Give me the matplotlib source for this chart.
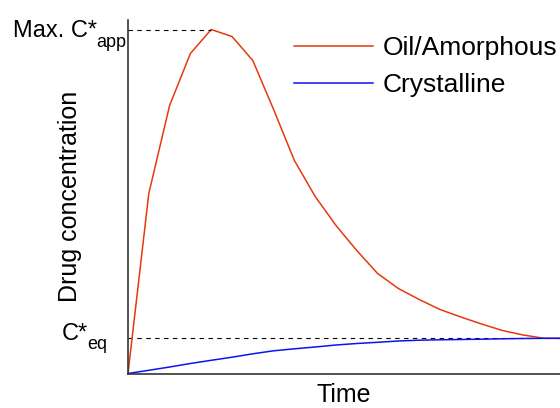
import matplotlib
matplotlib.use("Agg")
import matplotlib.pyplot as plt

plt.rcParams["font.family"] = ["Liberation Sans", "DejaVu Sans"]

# sampling times (arbitrary units) and concentration profiles (arbitrary units)
time = list(range(22))
oil_amorphous = [0, 180, 268, 320, 344, 337, 313, 264, 213, 177, 148, 123,
                 100, 85, 74, 64, 56.5, 49.5, 43, 38.5, 35.2, 35.2]
crystalline = [0, 3.2, 6.5, 10, 13.2, 16.3, 19.7, 22.7, 24.7, 26.5, 28.5, 30,
               31.2, 32.5, 33.3, 33.7, 34, 34.3, 34.7, 35, 35.2, 35.2]
c_max = max(oil_amorphous)
c_eq = 35.2
t_max = time[oil_amorphous.index(c_max)]

fig = plt.figure(figsize=(5.6, 4.08), dpi=100)
ax = fig.add_axes([128 / 560, 34.5 / 408, 432 / 560, 353.5 / 408])

ax.plot(time, oil_amorphous, color="#e8380d", lw=1.1, label="Oil/Amorphous")
ax.plot(time, crystalline, color="#0a14f0", lw=1.1, label="Crystalline")

# reference levels
ax.plot([0, t_max], [c_max, c_max], color="black", lw=0.8, ls=(0, (4, 4)))
ax.axhline(c_eq, color="black", lw=0.8, ls=(0, (4, 4)), zorder=1)


def level_label(y, main, sub, dx, dy, sub_dy):
    # main text right-aligned, subscript hung just after it
    ax.annotate(main, xy=(0, y), xytext=(dx, dy), textcoords="offset pixels",
                ha="right", va="baseline", fontsize=17, annotation_clip=False)
    ax.annotate(sub, xy=(0, y), xytext=(dx - 0.5, sub_dy),
                textcoords="offset pixels", ha="left", va="baseline",
                fontsize=13, annotation_clip=False)


level_label(c_max, "Max. C*", "app", -31, -7.5, -17.5)
level_label(c_eq, "C*", "eq", -40, -1.7, -10.5)

ax.set_xlim(0, 20.77)
ax.set_ylim(0, 353.5)
ax.set_xticks([])
ax.set_yticks([])
for side in ("top", "right"):
    ax.spines[side].set_visible(False)
for side in ("left", "bottom"):
    ax.spines[side].set_color("#333333")
    ax.spines[side].set_linewidth(1.2)

ax.set_xlabel("Time", fontsize=18, labelpad=6.5)
ax.set_ylabel("Drug concentration", fontsize=18, labelpad=33)

ax.legend(loc="upper left", bbox_to_anchor=(166 / 432, 0.955), frameon=False,
          fontsize=19, handlelength=3.0, handletextpad=0.35, labelspacing=0.5,
          borderaxespad=0, borderpad=0)

fig.savefig("out.png", dpi=100)
